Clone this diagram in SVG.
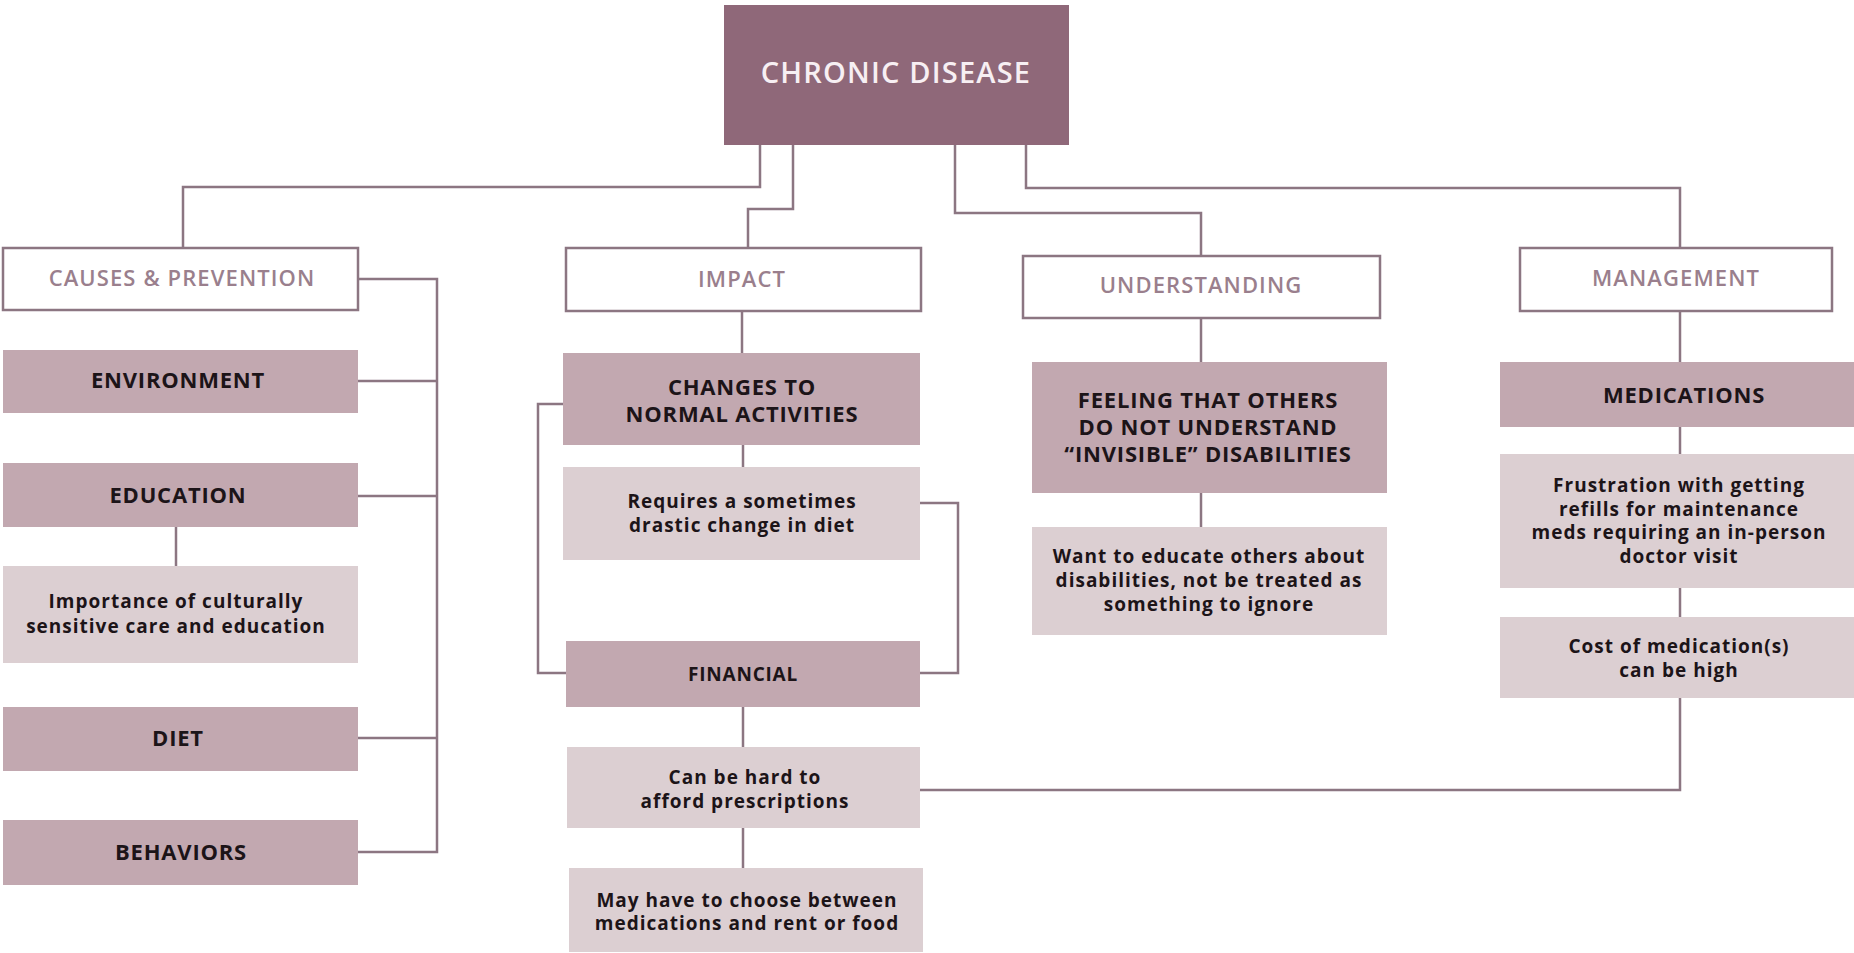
<svg xmlns="http://www.w3.org/2000/svg" width="1854" height="953" viewBox="0 0 1854 953">
<style>
.bg{fill:#ffffff}
.root{fill:#8f6879}
.hdr{fill:#ffffff;stroke:#8c7682;stroke-width:2.5}
.dark{fill:#c2a8b0}
.light{fill:#dccfd2}
.conn{fill:none;stroke:#8c7682;stroke-width:2.5}
text{font-family:"Open Sans","Noto Sans","Liberation Sans",sans-serif;text-anchor:middle}
.tRoot{font-size:29px;font-weight:600;fill:#f7eff3;letter-spacing:1.2px}
.tHdr{font-size:22px;font-weight:600;fill:#9a7f8d;letter-spacing:1.1px}
.tDark{font-size:22px;font-weight:700;fill:#1c1418;letter-spacing:0.8px}
.tSmall{font-size:19px;font-weight:700;fill:#1c1418;letter-spacing:0.8px}
.tBody{font-size:19px;font-weight:700;fill:#1c1418;letter-spacing:1px}
</style>
<rect class="bg" x="0" y="0" width="1854" height="953"/>
<g id="connectors">
<path class="conn" d="M760,145 V187 H183 V248"/>
<path class="conn" d="M793,145 V209 H748 V248"/>
<path class="conn" d="M955,145 V213 H1201 V256"/>
<path class="conn" d="M1026,145 V188 H1680 V248"/>
<path class="conn" d="M358,279 H437 V852 H358"/>
<path class="conn" d="M358,381 H437"/>
<path class="conn" d="M358,496 H437"/>
<path class="conn" d="M358,738 H437"/>
<path class="conn" d="M176,527 V566"/>
<path class="conn" d="M742,311 V353"/>
<path class="conn" d="M743,445 V467"/>
<path class="conn" d="M563,404 H538 V673 H567"/>
<path class="conn" d="M920,503 H958 V673 H920"/>
<path class="conn" d="M743,707 V747"/>
<path class="conn" d="M743,828 V868"/>
<path class="conn" d="M920,790 H1680 V698"/>
<path class="conn" d="M1201,318 V362"/>
<path class="conn" d="M1201,493 V527"/>
<path class="conn" d="M1680,311 V362"/>
<path class="conn" d="M1680,427 V454"/>
<path class="conn" d="M1680,588 V617"/>
</g>
<g id="chronic-disease">
<rect class="root" x="724" y="5" width="345" height="140"/>
<text class="tRoot" x="896" y="83">CHRONIC DISEASE</text>
</g>
<g id="causes-prevention">
<rect class="hdr" x="3" y="248" width="355" height="62"/>
<text class="tHdr" x="182" y="286">CAUSES &amp; PREVENTION</text>
</g>
<g id="environment">
<rect class="dark" x="3" y="350" width="355" height="63"/>
<text class="tDark" x="178" y="388">ENVIRONMENT</text>
</g>
<g id="education">
<rect class="dark" x="3" y="463" width="355" height="64"/>
<text class="tDark" x="178" y="503">EDUCATION</text>
</g>
<g id="importance">
<rect class="light" x="3" y="566" width="355" height="97"/>
<text class="tBody" x="176" y="608">Importance of culturally</text>
<text class="tBody" x="176" y="633">sensitive care and education</text>
</g>
<g id="diet">
<rect class="dark" x="3" y="707" width="355" height="64"/>
<text class="tDark" x="178" y="746">DIET</text>
</g>
<g id="behaviors">
<rect class="dark" x="3" y="820" width="355" height="65"/>
<text class="tDark" x="181" y="860">BEHAVIORS</text>
</g>
<g id="impact">
<rect class="hdr" x="566" y="248" width="355" height="63"/>
<text class="tHdr" x="742" y="287">IMPACT</text>
</g>
<g id="changes">
<rect class="dark" x="563" y="353" width="357" height="92"/>
<text class="tDark" x="742" y="395">CHANGES TO</text>
<text class="tDark" x="742" y="422">NORMAL ACTIVITIES</text>
</g>
<g id="requires">
<rect class="light" x="563" y="467" width="357" height="93"/>
<text class="tBody" x="742" y="508">Requires a sometimes</text>
<text class="tBody" x="742" y="532">drastic change in diet</text>
</g>
<g id="financial">
<rect class="dark" x="566" y="641" width="354" height="66"/>
<text class="tSmall" x="743" y="681">FINANCIAL</text>
</g>
<g id="hard-to-afford">
<rect class="light" x="567" y="747" width="353" height="81"/>
<text class="tBody" x="745" y="784">Can be hard to</text>
<text class="tBody" x="745" y="808">afford prescriptions</text>
</g>
<g id="choose-between">
<rect class="light" x="569" y="868" width="354" height="84"/>
<text class="tBody" x="747" y="907">May have to choose between</text>
<text class="tBody" x="747" y="930">medications and rent or food</text>
</g>
<g id="understanding">
<rect class="hdr" x="1023" y="256" width="357" height="62"/>
<text class="tHdr" x="1201" y="293">UNDERSTANDING</text>
</g>
<g id="feeling">
<rect class="dark" x="1032" y="362" width="355" height="131"/>
<text class="tDark" x="1208" y="408">FEELING THAT OTHERS</text>
<text class="tDark" x="1208" y="435">DO NOT UNDERSTAND</text>
<text class="tDark" x="1208" y="462">“INVISIBLE” DISABILITIES</text>
</g>
<g id="want-to-educate">
<rect class="light" x="1032" y="527" width="355" height="108"/>
<text class="tBody" x="1209" y="563">Want to educate others about</text>
<text class="tBody" x="1209" y="587">disabilities, not be treated as</text>
<text class="tBody" x="1209" y="611">something to ignore</text>
</g>
<g id="management">
<rect class="hdr" x="1520" y="248" width="312" height="63"/>
<text class="tHdr" x="1676" y="286">MANAGEMENT</text>
</g>
<g id="medications">
<rect class="dark" x="1500" y="362" width="354" height="65"/>
<text class="tDark" x="1684" y="403">MEDICATIONS</text>
</g>
<g id="frustration">
<rect class="light" x="1500" y="454" width="354" height="134"/>
<text class="tBody" x="1679" y="492">Frustration with getting</text>
<text class="tBody" x="1679" y="516">refills for maintenance</text>
<text class="tBody" x="1679" y="539">meds requiring an in-person</text>
<text class="tBody" x="1679" y="563">doctor visit</text>
</g>
<g id="cost">
<rect class="light" x="1500" y="617" width="354" height="81"/>
<text class="tBody" x="1679" y="653">Cost of medication(s)</text>
<text class="tBody" x="1679" y="677">can be high</text>
</g>
</svg>
